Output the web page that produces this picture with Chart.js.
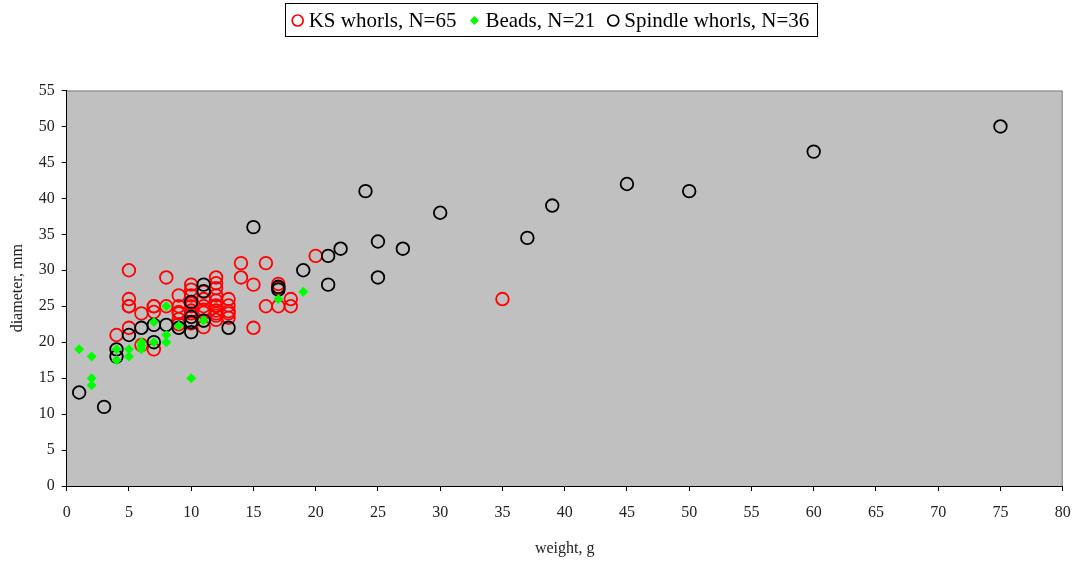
<!DOCTYPE html>
<html>
<head>
<meta charset="utf-8">
<script src="https://cdn.jsdelivr.net/npm/chart.js@4"></script>
<style>
html,body{margin:0;padding:0;background:#fff;}
#wrap{position:relative;width:1074px;height:561px;}
</style>
</head>
<body>
<div id="wrap"><canvas id="c" width="1074" height="561"></canvas></div>
<script>
// KS whorls (red open circles)
const ksWeight = [4,5,5,5,5,5,6,6,7,7,7,7,8,8,9,9,9,9,9,9,10,10,10,10,10,10,10,10,10,11,11,11,11,11,11,11,12,12,12,12,12,12,12,12,12,12,12,13,13,13,13,13,14,14,15,15,16,16,17,17,17,18,18,20,35];
const ksDiam   = [21,30,26,25,25,22,24,19.6,25,25,24.2,19,29,25,26.5,25,24.2,24,23.2,22.5,28,27.3,26.5,25.4,25,24.4,24,23.5,22.6,27,26,25,24.5,24.1,23,22.1,29,28.2,27.5,26.5,25.8,25.1,25,24.4,24,23.7,23.1,26,25.1,24.3,24,23.4,31,29,28,22,31,25,28.1,27.5,25,26,25,32,26];
// Beads (green diamonds)
const beadWeight = [1,2,2,2,4,4,5,5,6,6,6,7,7,8,8,8,9,10,11,17,19];
const beadDiam   = [19,18,15,14,19,17.5,19,18,20,19.5,19,20,22.8,25,21,20,22.3,15,23,26,27];
// Spindle whorls (black open circles)
const spWeight = [1,3,4,4,5,6,7,7,8,9,10,10,10,10,11,11,11,13,15,17,17,19,21,21,22,24,25,25,27,30,37,39,45,50,60,75];
const spDiam   = [13,11,19,18,21,22,22.4,20,22.4,22,25.6,23.5,22.8,21.4,28,27.1,23,22,36,27.7,27.3,30,32,28,33,41,34,29,33,38,34.5,39,42,41,46.5,50];

const seriesLabels = ['KS whorls, N=65','Beads, N=21','Spindle whorls, N=36'];
const xTitle = 'weight, g';
const yTitle = 'diameter, mm';

const toPts = (xs, ys) => xs.map((x, i) => ({x: x, y: ys[i]}));

const FONT = "'Liberation Serif', 'Times New Roman', serif";

const bgPlugin = {
  id: 'plotBg',
  beforeDraw(chart) {
    const {ctx, chartArea: a} = chart;
    ctx.save();
    ctx.fillStyle = '#C0C0C0';
    ctx.fillRect(a.left, a.top, a.right - a.left, a.bottom - a.top);
    ctx.strokeStyle = '#808080';
    ctx.lineWidth = 1;
    ctx.beginPath();
    ctx.moveTo(a.left, a.top + 0.5);
    ctx.lineTo(a.right - 0.5, a.top + 0.5);
    ctx.lineTo(a.right - 0.5, a.bottom);
    ctx.stroke();
    ctx.restore();
  }
};

const legendPlugin = {
  id: 'boxLegend',
  afterDraw(chart) {
    const ctx = chart.ctx;
    const boxL = 285, boxT = 3, boxR = 818, boxB = 37;
    ctx.save();
    ctx.fillStyle = '#fff';
    ctx.fillRect(boxL, boxT, boxR - boxL, boxB - boxT);
    ctx.strokeStyle = '#000';
    ctx.lineWidth = 1;
    ctx.strokeRect(boxL + 0.5, boxT + 0.5, boxR - boxL - 1, boxB - boxT - 1);
    ctx.font = '21px ' + FONT;
    ctx.textBaseline = 'middle';
    ctx.fillStyle = '#000';
    const cy = 20.5;
    const widths = seriesLabels.map(t => ctx.measureText(t).width);
    const gapMarkText = 11, gapItem = 18;
    const total = widths.reduce((s, w) => s + w, 0) + 3 * gapMarkText + 2 * gapItem;
    let x = (boxL + boxR) / 2 - total / 2 + 2;
    chart.data.datasets.forEach((ds, i) => {
      ctx.save();
      if (ds.pointStyle === 'rectRot') {
        ctx.fillStyle = ds.backgroundColor;
        ctx.beginPath();
        ctx.moveTo(x - 4.5, cy); ctx.lineTo(x, cy - 4.5); ctx.lineTo(x + 4.5, cy); ctx.lineTo(x, cy + 4.5);
        ctx.closePath(); ctx.fill();
      } else {
        ctx.strokeStyle = ds.borderColor;
        ctx.lineWidth = 1.7;
        ctx.beginPath(); ctx.arc(x, cy, 5.5, 0, Math.PI * 2); ctx.stroke();
      }
      ctx.restore();
      ctx.fillText(ds.label, x + gapMarkText, cy + 1);
      x += gapMarkText + widths[i] + gapItem;
    });
    ctx.restore();
  }
};

new Chart(document.getElementById('c'), {
  type: 'scatter',
  data: {
    datasets: [
      {label: seriesLabels[0], data: toPts(ksWeight, ksDiam), pointStyle: 'circle', pointRadius: 6.3, pointHoverRadius: 6.3,
       borderColor: '#FF0000', backgroundColor: 'rgba(0,0,0,0)', borderWidth: 1.8, order: 3},
      {label: seriesLabels[1], data: toPts(beadWeight, beadDiam), pointStyle: 'rectRot', pointRadius: 5, pointHoverRadius: 5,
       borderColor: '#00FF00', backgroundColor: '#00FF00', borderWidth: 0, order: 1},
      {label: seriesLabels[2], data: toPts(spWeight, spDiam), pointStyle: 'circle', pointRadius: 6.3, pointHoverRadius: 6.3,
       borderColor: '#000000', backgroundColor: 'rgba(0,0,0,0)', borderWidth: 1.8, order: 2}
    ]
  },
  options: {
    responsive: false,
    animation: false,
    events: [],
    layout: {padding: {top: 90.5, right: 11.3, left: 0, bottom: 0}},
    plugins: {legend: {display: false}, tooltip: {enabled: false}},
    scales: {
      x: {
        type: 'linear', min: 0, max: 80,
        ticks: {stepSize: 5, color: '#222', font: {family: FONT, size: 16}, padding: 12, maxRotation: 0},
        grid: {display: true, drawOnChartArea: false, drawTicks: true, tickLength: 5, color: '#000'},
        border: {display: true, color: '#000', width: 1},
        title: {display: true, text: xTitle, color: '#222', font: {family: FONT, size: 16}, padding: {top: 0, bottom: 3}},
        afterFit(s) { s.height = 75; s.paddingRight = 0; s.paddingLeft = 0; }
      },
      y: {
        type: 'linear', min: 0, max: 55,
        ticks: {stepSize: 5, color: '#222', font: {family: FONT, size: 16}, padding: 7},
        grid: {display: true, drawOnChartArea: false, drawTicks: true, tickLength: 5, color: '#000'},
        border: {display: true, color: '#000', width: 1},
        title: {display: true, text: yTitle, color: '#222', font: {family: FONT, size: 16}, padding: {top: 8, bottom: 0}},
        afterFit(s) { s.width = 66.7; s.paddingTop = 0; s.paddingBottom = 0; }
      }
    }
  },
  plugins: [bgPlugin, legendPlugin]
});
</script>
</body>
</html>
